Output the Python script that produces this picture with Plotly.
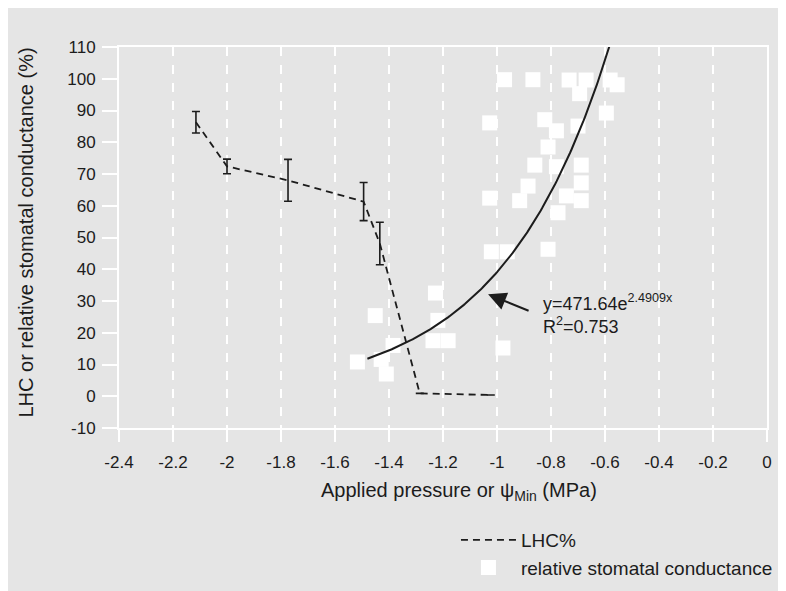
import plotly.graph_objects as go
import numpy as np

# LHC% (mean with error bars)
lhc_x = [-2.115, -2.0, -1.774, -1.494, -1.434, -1.286, -1.023]
lhc_y = [86.3, 72.4, 68.0, 61.3, 48.1, 0.9, 0.4]
lhc_err = [3.4, 2.3, 6.6, 6.0, 6.7, 0, 0]

# relative stomatal conductance vs psi_min
gs_x = [-0.972, -0.867, -0.733, -0.670, -0.581, -0.555, -0.694, -0.595,
        -1.027, -0.823, -0.780, -0.700, -0.811, -0.860, -0.780, -0.688,
        -0.885, -0.688, -1.027, -0.916, -0.743, -0.688, -0.774,
        -1.021, -0.962, -0.811, -0.978,
        -1.228, -1.451, -1.219, -1.237, -1.181, -1.517, -1.429, -1.385, -1.410]
gs_y = [99.7, 99.7, 99.6, 99.6, 99.6, 98.1, 95.3, 89.2,
        86.1, 87.1, 83.6, 85.1, 78.5, 72.8, 72.3, 72.8,
        66.2, 67.2, 62.4, 61.6, 63.1, 61.6, 57.8,
        45.5, 45.5, 46.3, 15.2,
        32.5, 25.4, 23.9, 17.5, 17.5, 10.8, 11.6, 16.0, 7.0]

# exponential fit shown on chart: y = a * exp(b x)
fit_a = 471.64
fit_b = 2.4909
fit_range = [-1.48, -0.58]

x_ticks = [-2.4, -2.2, -2.0, -1.8, -1.6, -1.4, -1.2, -1.0, -0.8, -0.6, -0.4, -0.2, 0.0]
x_ticktext = ["-2.4", "-2.2", "-2", "-1.8", "-1.6", "-1.4", "-1.2", "-1", "-0.8", "-0.6", "-0.4", "-0.2", "0"]
y_ticks = list(range(-10, 111, 10))
y_ticktext = [str(v) for v in y_ticks]

BG = "#e5e5e5"
INK = "#1c1c1c"
FONT = "Liberation Sans, Arial, Helvetica, sans-serif"

fit_x = np.linspace(fit_range[0], fit_range[1], 200)
fit_y = fit_a * np.exp(fit_b * fit_x)

fig = go.Figure()

fig.add_trace(go.Scatter(
    x=gs_x, y=gs_y, mode="markers", name="relative stomatal conductance",
    marker=dict(symbol="square", size=15, color="white", line=dict(width=0)),
))
fig.add_trace(go.Scatter(
    x=fit_x, y=fit_y, mode="lines", showlegend=False,
    line=dict(color=INK, width=2),
))
fig.add_trace(go.Scatter(
    x=lhc_x, y=lhc_y, mode="lines", name="LHC%",
    line=dict(color=INK, width=1.8, dash="7px,5px"),
    error_y=dict(type="data", array=lhc_err, visible=True,
                 color=INK, thickness=1.6, width=4),
))

fig.update_layout(
    width=786, height=591,
    paper_bgcolor=BG, plot_bgcolor=BG,
    margin=dict(l=111, r=27, t=39, b=160),
    font=dict(family=FONT, color=INK, size=17),
    legend=dict(x=0.52, y=-0.244, xanchor="left", yanchor="top",
                bgcolor="rgba(0,0,0,0)", font=dict(size=19),
                traceorder="reversed", tracegroupgap=0, itemwidth=55),
    showlegend=True,
)

fig.update_xaxes(
    range=[-2.4, 0], tickvals=x_ticks, ticktext=x_ticktext,
    ticks="outside", ticklen=12, tickwidth=2, tickcolor="white",
    showline=True, linecolor="white", linewidth=2, mirror=True,
    showgrid=True, gridcolor="white", gridwidth=1.5, griddash="dash",
    zeroline=False, tickfont=dict(size=17), automargin=False,
    ticklabelstandoff=6,
)
fig.update_yaxes(
    range=[-10, 110], tickvals=y_ticks, ticktext=y_ticktext,
    ticks="outside", ticklen=15, tickwidth=2, tickcolor="white",
    showline=True, linecolor="white", linewidth=2, mirror=True,
    showgrid=False, zeroline=False, tickfont=dict(size=17), automargin=False,
    ticklabelstandoff=3,
)

fig.add_annotation(
    x=-1.033, y=32.1, xref="x", yref="y", text="", showarrow=True,
    ax=42, ay=17, arrowhead=2, arrowsize=1.8, arrowwidth=2, arrowcolor=INK,
)
fig.add_annotation(
    x=0.651, y=0.365, xref="paper", yref="paper", xanchor="left", yanchor="top",
    align="left", showarrow=False, font=dict(size=18),
    text="y=471.64e<sup>2.4909x</sup><br>R<sup>2</sup>=0.753",
)
fig.add_annotation(
    x=0.525, y=-0.167, xref="paper", yref="paper", xanchor="center", yanchor="middle",
    showarrow=False, font=dict(size=20),
    text="Applied pressure or \u03c8<sub>Min</sub> (MPa)",
)
fig.add_annotation(
    x=-0.1435, y=0.513, xref="paper", yref="paper", xanchor="center", yanchor="middle",
    showarrow=False, font=dict(size=20), textangle=-90,
    text="LHC or relative stomatal conductance (%)",
)

fig.write_html("out.html")
